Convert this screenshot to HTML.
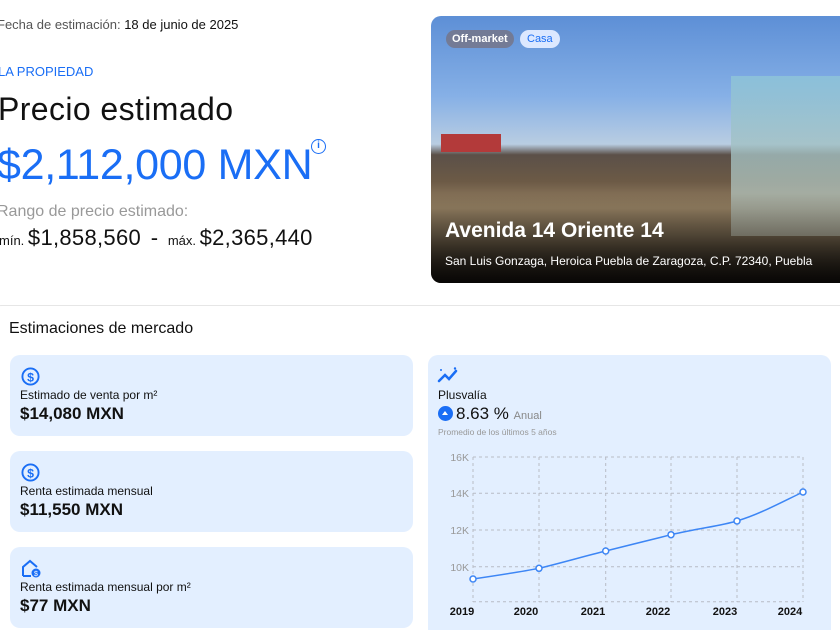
<!DOCTYPE html>
<html style="width:840px;height:630px;overflow:hidden"><head><meta charset="utf-8"><style>
*{margin:0;padding:0;box-sizing:border-box}
body{width:840px;height:630px;overflow:hidden;background:#fff;font-family:"Liberation Sans",sans-serif;color:#111;position:relative}
.a{position:absolute;white-space:nowrap}
.card{position:absolute;background:#e3efff;border-radius:10px}
</style></head><body>
<div class="a" style="left:-3px;top:17px;font-size:13px;color:#555">Fecha de estimación: <span style="color:#111">18 de junio de 2025</span></div>
<div class="a" style="left:-2px;top:64px;font-size:13px;color:#1a6ef5">LA PROPIEDAD</div>
<div class="a" style="left:-2px;top:91px;font-size:32px;color:#111;letter-spacing:0.4px">Precio estimado</div>
<div class="a" style="left:-3px;top:141px;font-size:43px;color:#1a6ef5;letter-spacing:-0.3px">$2,112,000 MXN</div>
<div class="a" style="left:311px;top:139px;width:15px;height:15px;border:1.5px solid #1a6ef5;border-radius:50%;font-size:10px;color:#1a6ef5;text-align:center;line-height:12px;font-weight:bold">i</div>
<div class="a" style="left:-3px;top:203px;font-size:16px;color:#999">Rango de precio estimado:</div>
<div class="a" style="left:-1px;top:225px;font-size:13px;color:#111">mín. <span style="font-size:22px;letter-spacing:0.3px">$1,858,560</span> <span style="font-size:22px">&nbsp;-&nbsp;</span> máx. <span style="font-size:22px;letter-spacing:0.3px">$2,365,440</span></div>

<div class="a" style="left:431px;top:16px;width:420px;height:267px;border-radius:10px;overflow:hidden;background:linear-gradient(180deg,#5d8fd6 0%,#86b0e6 30%,#b9cde2 48%,#5b5048 52%,#6c5a46 62%,#9a8566 72%,#7a6a52 82%,#201a14 100%)">
<div style="position:absolute;left:300px;top:60px;width:120px;height:160px;background:linear-gradient(180deg,#8fc6d8,#b9b9a8);opacity:.8"></div>
<div style="position:absolute;left:10px;top:118px;width:60px;height:18px;background:#b33a3a"></div>
<div style="position:absolute;left:0;bottom:0;width:100%;height:90px;background:linear-gradient(180deg,rgba(0,0,0,0),rgba(0,0,0,.75))"></div>
<div class="a" style="left:15px;top:14px;background:rgba(120,110,120,.7);color:#fff;font-size:11px;font-weight:bold;padding:3px 6px;border-radius:10px">Off-market</div>
<div class="a" style="left:89px;top:14px;background:#dce8ff;color:#1a6ef5;font-size:11px;padding:3px 7px;border-radius:10px">Casa</div>
<div class="a" style="left:14px;top:203px;font-size:21px;color:#fff;font-weight:bold">Avenida 14 Oriente 14</div>
<div class="a" style="left:14px;top:238px;font-size:12px;color:#fff">San Luis Gonzaga, Heroica Puebla de Zaragoza, C.P. 72340, Puebla</div>
</div>

<div class="a" style="left:-10px;top:305px;width:870px;height:340px;border:1px solid #e6e6e6;border-radius:12px;border-bottom:none"></div>
<div class="a" style="left:9px;top:320px;font-size:16px;color:#111">Estimaciones de mercado</div>

<div class="card" style="left:10px;top:355px;width:403px;height:81px"></div>
<svg class="a" style="left:21px;top:367px" width="19" height="19" viewBox="0 0 20 20"><circle cx="10" cy="10" r="8.5" fill="none" stroke="#1a6ef5" stroke-width="2"/><text x="10" y="15" font-size="13" text-anchor="middle" fill="#1a6ef5" font-family="Liberation Sans" font-weight="bold">$</text></svg>
<div class="a" style="left:20px;top:388px;font-size:12px">Estimado de venta por m²</div>
<div class="a" style="left:20px;top:404px;font-size:17px;font-weight:bold">$14,080 MXN</div>

<div class="card" style="left:10px;top:451px;width:403px;height:81px"></div>
<svg class="a" style="left:21px;top:463px" width="19" height="19" viewBox="0 0 20 20"><circle cx="10" cy="10" r="8.5" fill="none" stroke="#1a6ef5" stroke-width="2"/><text x="10" y="15" font-size="13" text-anchor="middle" fill="#1a6ef5" font-family="Liberation Sans" font-weight="bold">$</text></svg>
<div class="a" style="left:20px;top:484px;font-size:12px">Renta estimada mensual</div>
<div class="a" style="left:20px;top:500px;font-size:17px;font-weight:bold">$11,550 MXN</div>

<div class="card" style="left:10px;top:547px;width:403px;height:81px"></div>
<svg class="a" style="left:21px;top:559px" width="20" height="20" viewBox="0 0 20 20"><path d="M2 17V8l7-6 7 6" fill="none" stroke="#1a6ef5" stroke-width="2"/><path d="M2 17h8" stroke="#1a6ef5" stroke-width="2"/><circle cx="15" cy="14" r="4.5" fill="#1a6ef5"/><text x="15" y="17" font-size="7" fill="#fff" text-anchor="middle" font-family="Liberation Sans">$</text></svg>
<div class="a" style="left:20px;top:580px;font-size:12px">Renta estimada mensual por m²</div>
<div class="a" style="left:20px;top:596px;font-size:17px;font-weight:bold">$77 MXN</div>

<div class="card" style="left:428px;top:355px;width:403px;height:275px;border-radius:10px 10px 0 0"></div>
<svg class="a" style="left:437px;top:367px" width="24" height="16" viewBox="0 0 24 16"><path d="M2 14l6-6 4 4 7-8" fill="none" stroke="#1a6ef5" stroke-width="2.5" stroke-linecap="round"/><circle cx="4" cy="3" r="1" fill="#1a6ef5"/><circle cx="18" cy="1.5" r="1.2" fill="#1a6ef5"/></svg>
<div class="a" style="left:438px;top:388px;font-size:12px">Plusvalía</div>
<div class="a" style="left:438px;top:406px;width:15px;height:15px;border-radius:50%;background:#1a6ef5"></div>
<div class="a" style="left:442px;top:411px;width:0;height:0;border-left:3.5px solid transparent;border-right:3.5px solid transparent;border-bottom:4px solid #fff"></div>
<div class="a" style="left:456px;top:404px;font-size:17px">8.63 % <span style="font-size:11px;color:#888">Anual</span></div>
<div class="a" style="left:438px;top:427px;font-size:8.5px;color:#999">Promedio de los últimos 5 años</div>

<svg class="a" style="left:0;top:0" width="840" height="630">
<g stroke="#b8bcc6" stroke-width="1" stroke-dasharray="3,3" fill="none">
<line x1="473" y1="457" x2="803" y2="457"/><line x1="473" y1="493.3" x2="803" y2="493.3"/>
<line x1="473" y1="530" x2="803" y2="530"/><line x1="473" y1="566.7" x2="803" y2="566.7"/>
<line x1="473" y1="601.7" x2="803" y2="601.7"/>
<line x1="473" y1="457" x2="473" y2="602"/><line x1="539" y1="457" x2="539" y2="602"/>
<line x1="605.7" y1="457" x2="605.7" y2="602"/><line x1="671" y1="457" x2="671" y2="602"/>
<line x1="737" y1="457" x2="737" y2="602"/><line x1="803" y1="457" x2="803" y2="602"/>
</g>
<g font-family="Liberation Sans" font-size="10.5" fill="#999" text-anchor="end">
<text x="469" y="461">16K</text><text x="469" y="497">14K</text><text x="469" y="534">12K</text><text x="469" y="571">10K</text>
</g>
<g font-family="Liberation Sans" font-size="11" font-weight="bold" fill="#111" text-anchor="middle">
<text x="462" y="615">2019</text><text x="526" y="615">2020</text><text x="593" y="615">2021</text><text x="658" y="615">2022</text><text x="725" y="615">2023</text><text x="790" y="615">2024</text>
</g>
<path d="M473 579 C500 575,520 572,539 568.3 C565 562,585 556,605.7 551 C630 545,650 540,671 534.7 C700 528,720 526,737 521 C760 514,780 503,803 492" fill="none" stroke="#3d86f5" stroke-width="1.5"/>
<g fill="#fff" stroke="#3d86f5" stroke-width="1.5">
<circle cx="473" cy="579" r="3"/><circle cx="539" cy="568.3" r="3"/><circle cx="605.7" cy="551" r="3"/><circle cx="671" cy="534.7" r="3"/><circle cx="737" cy="521" r="3"/><circle cx="803" cy="492" r="3"/>
</g>
</svg>
</body></html>
